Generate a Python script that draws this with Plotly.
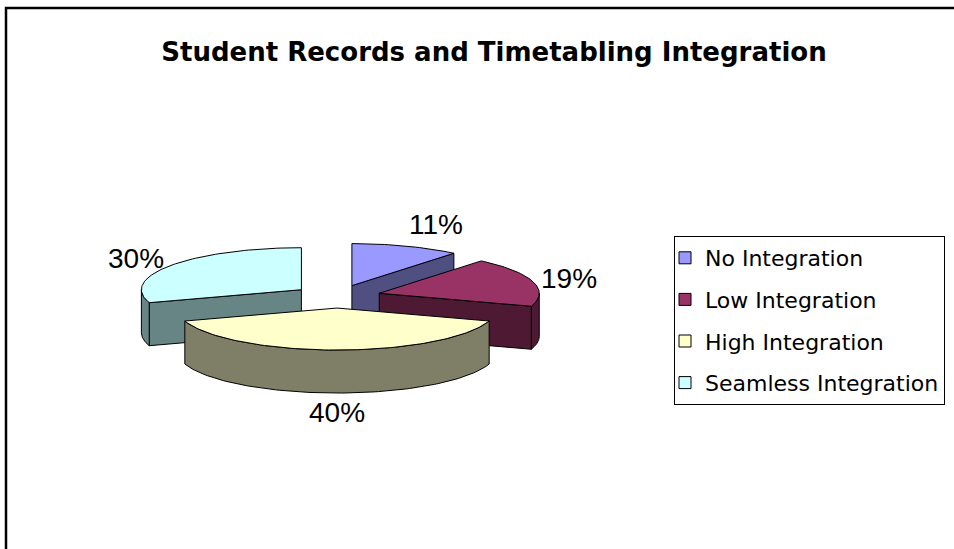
import numpy as np
import plotly.graph_objects as go

# ---- data -------------------------------------------------------------
categories = ["No Integration", "Low Integration", "High Integration", "Seamless Integration"]
shares = [11, 19, 40, 30]
top_colors = ["#9999FF", "#993366", "#FFFFCC", "#CCFFFF"]
side_colors = ["#4F4F82", "#4D1933", "#7F7F67", "#688585"]

# ---- page / pie geometry (pixels) ----------------------------------------
W, H = 954, 549
CX, CY = 337.0, 296.5      # pie centre
RX, RY = 160.0, 42.0       # ellipse radii of the tilted disc
DEPTH = 43.0               # disc thickness
EXPLODE = 44.0             # radial offset of each slice
LBL_HW, LBL_HH, LBL_GAP = 28.0, 12.0, 7.0

total = float(sum(shares))
bounds = np.concatenate([[0.0], np.cumsum(shares) / total * 360.0])


def rim(cx, cy, deg, dy=0.0):
    t = np.radians(deg)
    return cx + RX * np.sin(t), cy - RY * np.cos(t) + dy


def arc(cx, cy, a0, a1, dy=0.0, n=None):
    n = n or max(2, int(abs(a1 - a0) / 1.5) + 2)
    ang = np.linspace(a0, a1, n)
    xs, ys = rim(cx, cy, ang, dy)
    return list(xs), list(ys)


def face(xs, ys, color):
    return go.Scatter(
        x=xs + [xs[0]], y=ys + [ys[0]], mode="lines", fill="toself",
        fillcolor=color, line=dict(color="black", width=1),
        hoverinfo="skip", showlegend=False,
    )


slices = []
for i in range(len(shares)):
    a0, a1 = bounds[i], bounds[i + 1]
    mid = np.radians((a0 + a1) / 2)
    cx = CX + EXPLODE * np.sin(mid)
    cy = CY - EXPLODE * (RY / RX) * np.cos(mid)
    slices.append((cy, i, a0, a1, cx))

fig = go.Figure()

# back slices first so the front ones overlap them
for cy, i, a0, a1, cx in sorted(slices):
    # radial cut faces that face the viewer
    for a, visible in ((a0, np.sin(np.radians(a0)) < -1e-9),
                       (a1, np.sin(np.radians(a1)) > 1e-9)):
        if visible:
            rx_, ry_ = rim(cx, cy, a)
            fig.add_trace(face([cx, rx_, rx_, cx],
                               [cy, ry_, ry_ + DEPTH, cy + DEPTH],
                               side_colors[i]))
    # curved outer wall (front half only)
    s0, s1 = max(a0, 90.0), min(a1, 270.0)
    if s1 > s0:
        tx, ty = arc(cx, cy, s0, s1)
        bx, by = arc(cx, cy, s1, s0, DEPTH)
        fig.add_trace(face(tx + bx, ty + by, side_colors[i]))
    # top face
    ax, ay = arc(cx, cy, a0, a1)
    fig.add_trace(face([cx] + ax, [cy] + ay, top_colors[i]))

# percentage labels placed just outside each slice
annotations = []
for cy, i, a0, a1, cx in slices:
    mid = (a0 + a1) / 2
    front = np.cos(np.radians(mid)) < 0
    px, py = rim(cx, cy, mid, DEPTH if front else 0.0)
    ux, uy = px - cx, py - cy
    norm = np.hypot(ux, uy)
    ux, uy = ux / norm, uy / norm
    reach = LBL_GAP + LBL_HW * abs(ux) + LBL_HH * abs(uy)
    annotations.append(dict(
        x=px + ux * reach, y=py + uy * reach, xref="x", yref="y",
        text=f"{round(shares[i] / total * 100)}%", showarrow=False,
        xanchor="center", yanchor="middle",
        font=dict(family="Liberation Sans, Arial", size=28, color="black"),
    ))

# legend entries
for name, col in zip(categories, top_colors):
    fig.add_trace(go.Scatter(
        x=[None], y=[None], mode="markers", name=name, legendgroup=name,
        marker=dict(symbol="square", size=12, color=col,
                    line=dict(color="black", width=1)),
    ))

fig.update_layout(
    width=W, height=H,
    margin=dict(l=0, r=0, t=0, b=0, pad=0, autoexpand=False),
    paper_bgcolor="white", plot_bgcolor="white",
    hovermode=False,
    xaxis=dict(range=[0, W], visible=False, fixedrange=True),
    yaxis=dict(range=[H, 0], visible=False, fixedrange=True),
    title=dict(
        text="<b>Student Records and Timetabling Integration</b>",
        x=494 / W, xref="container", xanchor="center",
        y=1 - 52 / H, yref="container", yanchor="middle",
        font=dict(family="DejaVu Sans", size=26, color="black"),
    ),
    legend=dict(
        x=674 / W, y=1 - 236 / H, xref="container", yref="container",
        xanchor="left", yanchor="top", indentation=-10,
        bgcolor="white", bordercolor="black", borderwidth=1,
        font=dict(family="DejaVu Sans", size=22, color="black"),
        tracegroupgap=10, itemclick=False, itemdoubleclick=False,
    ),
    annotations=annotations,
    shapes=[dict(type="rect", xref="x", yref="y", x0=6, y0=8, x1=W + 40, y1=H + 40,
                 line=dict(color="black", width=2.5), layer="below")],
)

fig.write_html("out.html")
